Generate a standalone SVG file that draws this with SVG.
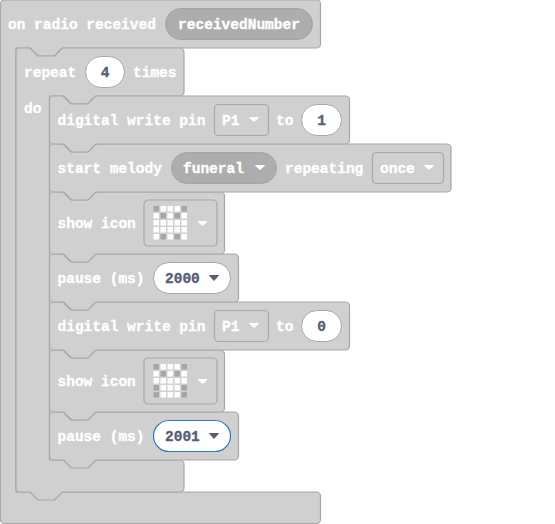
<svg xmlns="http://www.w3.org/2000/svg" width="555" height="524" viewBox="0 0 555 524">
<style>
.b{fill:#d0d0d0;stroke:#a8a8a8;stroke-width:1.2;stroke-linejoin:round}
text{font-family:"Liberation Mono","DejaVu Sans Mono",monospace;font-weight:700;font-size:14.5px;dominant-baseline:central}
.w{fill:#fff;stroke:#fff;stroke-width:.35}
.d{fill:#575e75;stroke:#575e75;stroke-width:.35}
.m{text-anchor:middle}
.p{fill:#fff;stroke:#a8a8a8}
.g{fill:#adadad;stroke:#a5a5a5}
.r{fill:#d0d0d0;stroke:#a8a8a8;stroke-width:1.2}
.c{fill:#fff;stroke:#fff;stroke-linejoin:round}
.k{fill:#575e75;stroke:#575e75;stroke-linejoin:round}
.on{fill:#fff}
.of{fill:#a6a6a6}
</style>
<defs>
<g id="i1">
<rect class="r" x="0" y="0" width="73" height="46" rx="4"/>
<g class="on"><rect x="16.500" y="6" width="5.500" height="5.500"/><rect x="23.500" y="6" width="5.500" height="5.500"/><rect x="30.500" y="6" width="5.500" height="5.500"/><rect x="9.500" y="13" width="5.500" height="5.500"/><rect x="23.500" y="13" width="5.500" height="5.500"/><rect x="37.500" y="13" width="5.500" height="5.500"/></g>
<g class="on"><rect x="9.500" y="20" width="5.500" height="5.500"/><rect x="16.500" y="20" width="5.500" height="5.500"/><rect x="23.500" y="20" width="5.500" height="5.500"/><rect x="30.500" y="20" width="5.500" height="5.500"/><rect x="37.500" y="20" width="5.500" height="5.500"/></g>
<g class="of"><rect x="9.500" y="6" width="5.500" height="5.500"/><rect x="37.500" y="6" width="5.500" height="5.500"/><rect x="16.500" y="13" width="5.500" height="5.500"/><rect x="30.500" y="13" width="5.500" height="5.500"/></g>
<path class="c" d="M54 21.500h9l-4.500 4z"/>
</g>
</defs>
<g id="hat"><path class="b" d="M.5 4a4 4 0 0 1 4-4H316.500a4 4 0 0 1 4 4V44a4 4 0 0 1-4 4H62.500l-7 7q-1 1-2.500 1H39.500q-1.500 0-2.500-1l-7-7H16V492H316.500a4 4 0 0 1 4 4V519.500a4 4 0 0 1-4 4H4.500a4 4 0 0 1-4-4z"/>
<text class="w" x="8" y="25">on radio received</text>
<rect class="g" x="165.500" y="8.500" width="147" height="31" rx="15.500"/><text class="w m" x="239" y="25">receivedNumber</text></g>
<g id="repeat"><path class="b" d="M16 52a4 4 0 0 1 4-4H30l7 7q1 1 2.500 1H53q1.500 0 2.500-1l7-7H180a4 4 0 0 1 4 4V92a4 4 0 0 1-4 4H96l-7 7q-1 1-2.500 1H73q-1.500 0-2.500-1l-7-7H49.500V460H180a4 4 0 0 1 4 4V488a4 4 0 0 1-4 4H62.500l-7 7q-1 1-2.500 1H39.500q-1.500 0-2.500-1l-7-7H20a4 4 0 0 1-4-4z"/>
<text class="w" x="24" y="73">repeat</text>
<rect class="p" x="85.500" y="56.500" width="39" height="31" rx="15.500"/><text class="d m" x="105" y="73">4</text>
<text class="w" x="133" y="73">times</text><text class="w" x="24" y="109">do</text></g>
<g id="pause2"><path class="b" d="M49.500 416a4 4 0 0 1 4-4H63l7 7q1 1 2.500 1H86q1.500 0 2.500-1l7-7H234.500a4 4 0 0 1 4 4V456a4 4 0 0 1-4 4H96l-7 7q-1 1-2.500 1H73q-1.500 0-2.500-1l-7-7H53.500a4 4 0 0 1-4-4z"/>
<text class="w" x="57.500" y="437">pause (ms)</text>
<rect x="153.500" y="420.500" width="77" height="31" rx="15.500" fill="#fff" stroke="#2f7cc4" stroke-width="1.200"/><text class="d" x="165" y="437">2001</text><path class="k" d="M209.500 433.500h9l-4.500 5z"/></g>
<g id="icon2"><path class="b" d="M49.500 354a4 4 0 0 1 4-4H63l7 7q1 1 2.500 1H86q1.500 0 2.500-1l7-7H220.500a4 4 0 0 1 4 4V408a4 4 0 0 1-4 4H96l-7 7q-1 1-2.500 1H73q-1.500 0-2.500-1l-7-7H53.500a4 4 0 0 1-4-4z"/>
<text class="w" x="57.500" y="382">show icon</text>
<use href="#i1" x="144" y="358"/>
<g class="on"><rect x="160.500" y="385" width="5.500" height="5.500"/><rect x="167.500" y="385" width="5.500" height="5.500"/><rect x="174.500" y="385" width="5.500" height="5.500"/><rect x="160.500" y="392" width="5.500" height="5.500"/><rect x="167.500" y="392" width="5.500" height="5.500"/><rect x="174.500" y="392" width="5.500" height="5.500"/></g>
<g class="of"><rect x="153.500" y="385" width="5.500" height="5.500"/><rect x="181.500" y="385" width="5.500" height="5.500"/><rect x="153.500" y="392" width="5.500" height="5.500"/><rect x="181.500" y="392" width="5.500" height="5.500"/></g></g>
<g id="write0"><path class="b" d="M49.500 306a4 4 0 0 1 4-4H63l7 7q1 1 2.500 1H86q1.500 0 2.500-1l7-7H345.500a4 4 0 0 1 4 4V346a4 4 0 0 1-4 4H96l-7 7q-1 1-2.500 1H73q-1.500 0-2.500-1l-7-7H53.500a4 4 0 0 1-4-4z"/>
<text class="w" x="57.500" y="327">digital write pin</text>
<rect class="r" x="214.500" y="310.500" width="54" height="31" rx="4"/><text class="w" x="222" y="327">P1</text><path class="c" d="M249.500 323.500h9l-4.500 4z"/>
<text class="w" x="276" y="327">to</text>
<rect class="p" x="301.500" y="310.500" width="40" height="31" rx="15.500"/><text class="d m" x="321.500" y="327">0</text></g>
<g id="pause1"><path class="b" d="M49.500 258a4 4 0 0 1 4-4H63l7 7q1 1 2.500 1H86q1.500 0 2.500-1l7-7H234.500a4 4 0 0 1 4 4V298a4 4 0 0 1-4 4H96l-7 7q-1 1-2.500 1H73q-1.500 0-2.500-1l-7-7H53.500a4 4 0 0 1-4-4z"/>
<text class="w" x="57.500" y="279">pause (ms)</text>
<rect class="p" x="153.500" y="262.500" width="77" height="31" rx="15.500"/><text class="d" x="165" y="279">2000</text><path class="k" d="M209.500 275.500h9l-4.500 5z"/></g>
<g id="icon1"><path class="b" d="M49.500 196a4 4 0 0 1 4-4H63l7 7q1 1 2.500 1H86q1.500 0 2.500-1l7-7H220.500a4 4 0 0 1 4 4V250a4 4 0 0 1-4 4H96l-7 7q-1 1-2.500 1H73q-1.500 0-2.500-1l-7-7H53.500a4 4 0 0 1-4-4z"/>
<text class="w" x="57.500" y="224">show icon</text>
<use href="#i1" x="144" y="200"/>
<g class="on"><rect x="153.500" y="227" width="5.500" height="5.500"/><rect x="160.500" y="227" width="5.500" height="5.500"/><rect x="167.500" y="227" width="5.500" height="5.500"/><rect x="174.500" y="227" width="5.500" height="5.500"/><rect x="181.500" y="227" width="5.500" height="5.500"/><rect x="153.500" y="234" width="5.500" height="5.500"/><rect x="167.500" y="234" width="5.500" height="5.500"/><rect x="181.500" y="234" width="5.500" height="5.500"/></g>
<g class="of"><rect x="160.500" y="234" width="5.500" height="5.500"/><rect x="174.500" y="234" width="5.500" height="5.500"/></g></g>
<g id="melody"><path class="b" d="M49.500 148a4 4 0 0 1 4-4H63l7 7q1 1 2.500 1H86q1.500 0 2.500-1l7-7H447a4 4 0 0 1 4 4V188a4 4 0 0 1-4 4H96l-7 7q-1 1-2.500 1H73q-1.500 0-2.500-1l-7-7H53.500a4 4 0 0 1-4-4z"/>
<text class="w" x="57.500" y="169">start melody</text>
<rect class="g" x="171.500" y="152.500" width="105" height="31" rx="15.500"/><text class="w" x="183" y="169">funeral</text><path class="c" d="M255.500 165.500h9l-4.500 4z"/>
<text class="w" x="285" y="169">repeating</text>
<rect class="r" x="372.500" y="152.500" width="71" height="31" rx="4"/><text class="w" x="380" y="169">once</text><path class="c" d="M424.500 165.500h9l-4.500 4z"/></g>
<g id="write1"><path class="b" d="M49.500 100a4 4 0 0 1 4-4H63l7 7q1 1 2.500 1H86q1.500 0 2.500-1l7-7H345.500a4 4 0 0 1 4 4V140a4 4 0 0 1-4 4H96l-7 7q-1 1-2.500 1H73q-1.500 0-2.500-1l-7-7H53.500a4 4 0 0 1-4-4z"/>
<text class="w" x="57.500" y="121">digital write pin</text>
<rect class="r" x="214.500" y="104.500" width="54" height="31" rx="4"/><text class="w" x="222" y="121">P1</text><path class="c" d="M249.500 117.500h9l-4.500 4z"/>
<text class="w" x="276" y="121">to</text>
<rect class="p" x="301.500" y="104.500" width="40" height="31" rx="15.500"/><text class="d m" x="321.500" y="121">1</text></g>
</svg>
